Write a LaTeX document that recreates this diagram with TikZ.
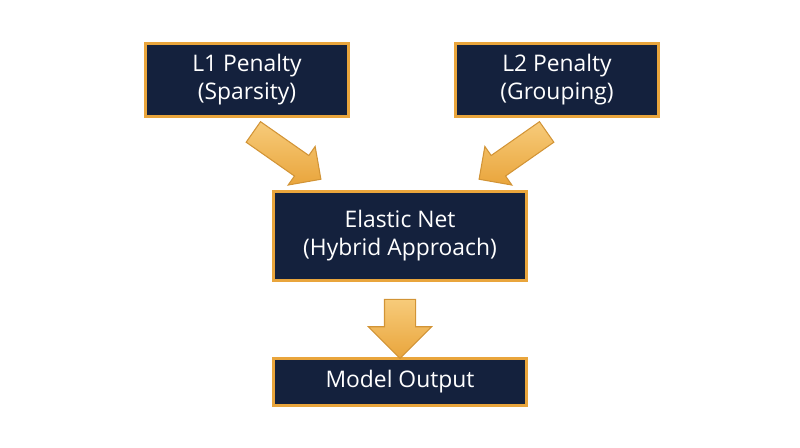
\documentclass[tikz,border=0pt]{standalone}
\usepackage{fontspec}
\setmainfont{Open Sans}
\usetikzlibrary{shapes.arrows,positioning,calc}
\definecolor{navy}{HTML}{14213D}
\definecolor{gold}{HTML}{E9A53C}
\definecolor{goldlight}{HTML}{F7CB7A}
\begin{document}
\begin{tikzpicture}[x=0.02cm,y=-0.02cm,
    box/.style={rectangle, draw=gold, line width=1.5pt, fill=navy, text=white, align=center, font=\fontsize{13}{16}\selectfont},
    flow/.style={single arrow, draw=gold!90!black, line width=0.6pt, top color=goldlight, bottom color=gold, shading angle=#1, single arrow head extend=0.22cm, minimum height=1.9cm, inner xsep=0pt, inner ysep=0.24cm}
]
\useasboundingbox (0,0) rectangle (800,447);

% Inputs
\node[box, minimum width=4.05cm, minimum height=1.45cm] (l1) at (247,80) {L1 Penalty\\(Sparsity)};
\node[box, minimum width=4.05cm, minimum height=1.45cm] (l2) at (557,80) {L2 Penalty\\(Grouping)};

% Combination
\node[box, minimum width=5.05cm, minimum height=1.78cm] (en) at (400,236) {Elastic Net\\(Hybrid Approach)};

% Result
\node[box, minimum width=5.05cm, minimum height=0.95cm] (out) at (400,382) {Model Output};

% Arrows
\node[flow=0, rotate=-35, minimum height=1.65cm] (a1) at (282,152) {};
\node[flow=0, rotate=-145, minimum height=1.65cm] (a2) at (518,152) {};
\node[flow=0, rotate=-90, minimum height=1.18cm, inner ysep=0.3cm, single arrow head extend=0.32cm] (a3) at (400,321) {};
\end{tikzpicture}
\end{document}
